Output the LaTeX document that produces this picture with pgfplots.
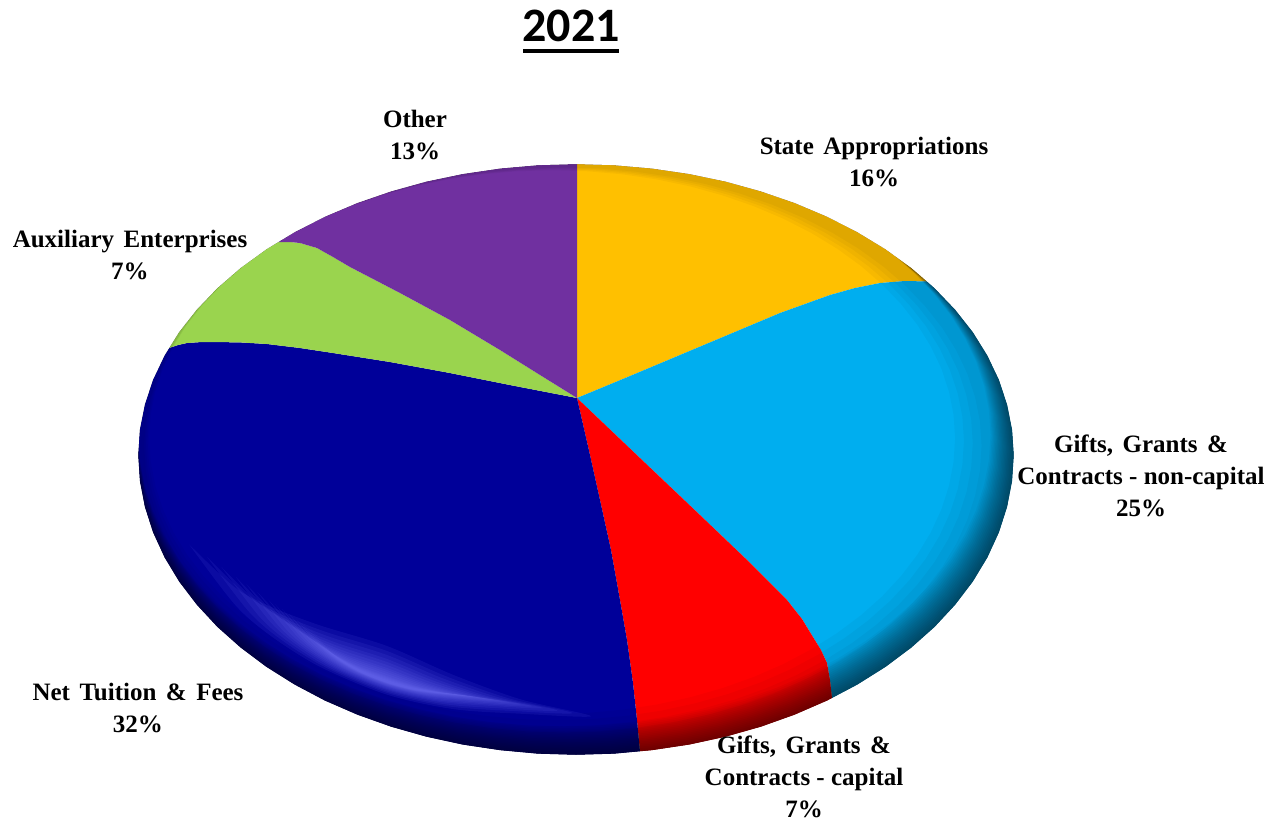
\documentclass[border=0pt]{standalone}
\usepackage{fontspec}
\usepackage{pgfplots}
\usepackage{pgfplotstable}
\pgfplotsset{compat=1.18}
\setmainfont{Liberation Serif}
\newfontfamily\titlefont{Carlito}
\newcommand\ws{\spaceskip=0.38em\relax}
\definecolor{cY}{HTML}{FFC000}
\definecolor{cB}{HTML}{00AEEF}
\definecolor{cR}{HTML}{FF0000}
\definecolor{cN}{HTML}{000099}
\definecolor{cG}{HTML}{9AD44E}
\definecolor{cP}{HTML}{7030A0}
\definecolor{cH}{HTML}{7C7CFF}
\tikzset{lab/.style={align=center, anchor=center, inner sep=0pt, font=\fontsize{25}{32}\selectfont\bfseries}}
\pgfplotstableread{
x y
576 164
614.2 165.1
652 168.4
689.4 173.9
725.8 181.5
761.1 191.3
795 203
827.2 216.6
857.5 232.1
885.7 249.2
911.5 267.9
934.8 288.1
955.3 309.5
973 332
987.6 355.5
999.1 379.7
1007.3 404.5
1012.3 429.6
1014 455
1012.3 481.2
1007.3 507.1
999.1 532.6
987.6 557.6
973 581.8
955.3 605
934.8 627.1
911.5 647.8
885.7 667.1
857.5 684.8
827.2 700.8
795 714.8
761.1 726.9
725.8 736.9
689.4 744.8
652 750.4
614.2 753.9
576 755
537.8 753.9
500 750.4
462.6 744.8
426.2 736.9
390.9 726.9
357 714.8
324.8 700.8
294.5 684.8
266.3 667.1
240.5 647.8
217.2 627.1
196.7 605
179 581.8
164.4 557.6
152.9 532.6
144.7 507.1
139.7 481.2
138 455
139.7 429.6
144.7 404.5
152.9 379.7
164.4 355.5
179 332
196.7 309.5
217.2 288.1
240.5 267.9
266.3 249.2
294.5 232.1
324.8 216.6
357 203
390.9 191.3
426.2 181.5
462.6 173.9
500 168.4
537.8 165.1
576 164
}\outline
\pgfplotstablevertcat{\doubled}{\outline}
\pgfplotstablevertcat{\doubled}{\outline}
\pgfplotstableread{
x y
576 -20
1310 -20
1310 850
-20 850
-20 -20
576 -20
}\surround
\pgfplotstablevertcat{\surround}{\outline}
\pgfplotstableread{
x y d
190 545 0
235 600 -0.35
270 628 -0.6
320 656 -0.85
387 682 -1
453 700 -0.7
520 710 -0.3
590 716 0
520 710 0.1
453 700 0.25
387 682 0.35
320 656 0.3
270 628 0.2
235 600 0.12
190 545 0
}\glow
\begin{document}
\begin{tikzpicture}
\path[use as bounding box] (0,0) rectangle (1285pt,822pt);
\begin{axis}[
  at={(0,0)}, anchor=south west,
  hide axis, scale only axis, width=1285pt, height=822pt,
  xmin=0, xmax=1285, ymin=0, ymax=822, y dir=reverse,
  clip=false, enlargelimits=false]
% Slices
\addplot[draw=none, fill=cY] coordinates {(577,398)(577,164)(614.2,165.1)(652,168.4)(689.4,173.9)(725.8,181.5)(761.1,191.3)(795,203)(827.2,216.6)(857.5,232.1)(885.7,249.2)(911.5,267.9)(928,281.5)(905,281)(880,283)(855,288)(830,295)(805,304)(780,313)(730,334)(680,355)(630,376)(577,398)};
\addplot[draw=none, fill=cB] coordinates {(577,398)(630,376)(680,355)(730,334)(780,313)(805,304)(830,295)(855,288)(880,283)(905,281)(928,281.5)(934.8,288.1)(955.3,309.5)(973,332)(987.6,355.5)(999.1,379.7)(1007.3,404.5)(1012.3,429.6)(1014,455)(1012.3,481.2)(1007.3,507.1)(999.1,532.6)(987.6,557.6)(973,581.8)(955.3,605)(934.8,627.1)(911.5,647.8)(885.7,667.1)(857.5,684.8)(832,698.3)(830,680)(827,663)(821,650)(813,637)(802,619)(787,600)(745,558)(700,515)(640,458)(577,398)};
\addplot[draw=none, fill=cR] coordinates {(577,398)(640,458)(700,515)(745,558)(787,600)(802,619)(813,637)(821,650)(827,663)(830,680)(832,698.3)(827.2,700.8)(795,714.8)(761.1,726.9)(725.8,736.9)(689.4,744.8)(652,750.4)(640,751.5)(637,720)(633,683)(627,640)(620,600)(611,550)(600,500)(590,455)(577,398)};
\addplot[draw=none, fill=cN] coordinates {(577,398)(590,455)(600,500)(611,550)(620,600)(627,640)(633,683)(637,720)(640,751.5)(614.2,753.9)(576,755)(537.8,753.9)(500,750.4)(462.6,744.8)(426.2,736.9)(390.9,726.9)(357,714.8)(324.8,700.8)(294.5,684.8)(266.3,667.1)(240.5,647.8)(217.2,627.1)(196.7,605)(179,581.8)(164.4,557.6)(152.9,532.6)(144.7,507.1)(139.7,481.2)(138,455)(139.7,429.6)(144.7,404.5)(152.9,379.7)(164.4,355.5)(169,348)(178,345)(187,343)(202,342)(217,342)(242,342.5)(267,344)(300,348)(333,353)(390,362)(450,373)(515,386)(577,398)};
\addplot[draw=none, fill=cG] coordinates {(577,398)(515,386)(450,373)(390,362)(333,353)(300,348)(267,344)(242,342.5)(217,342)(202,342)(187,343)(178,345)(169,348)(179,332)(196.7,309.5)(217.2,288.1)(240.5,267.9)(266.3,249.2)(278,242)(290,242)(300,243)(317,248)(333,257)(350,267)(375,280)(400,293)(450,320)(500,350)(540,375)(577,398)};
\addplot[draw=none, fill=cP] coordinates {(577,398)(540,375)(500,350)(450,320)(400,293)(375,280)(350,267)(333,257)(317,248)(300,243)(290,242)(278,242)(294.5,232.1)(324.8,216.6)(357,203)(390.9,191.3)(426.2,181.5)(462.6,173.9)(500,168.4)(537.8,165.1)(577,164)(577,398)};
% Broad faint shading
\pgfplotsinvokeforeach{0.92,0.932,0.944,0.956}{
  \addplot[draw=none, fill=black, fill opacity=0.03, even odd rule]
    table[x expr={\coordindex<73 ? \thisrow{x} : 278+#1*(\thisrow{x}-278)},
          y expr={\coordindex<73 ? \thisrow{y} : 242+#1*(\thisrow{y}-242)}] {\doubled};
}
% Rim: the outline and a copy shrunk towards a point far above the pie
\pgfplotsinvokeforeach{0.973,0.9745,0.976,0.9775,0.979,0.9805,0.982,0.9835,0.985,0.9865,0.988,0.9895,0.991,0.9925,0.994,0.9955,0.997,0.9985}{
  \addplot[draw=none, fill=black, fill opacity=0.035, even odd rule]
    table[x expr={\coordindex<73 ? \thisrow{x} : 145+#1*(\thisrow{x}-145)},
          y expr={\coordindex<73 ? \thisrow{y} : -299+#1*(\thisrow{y}+299)}] {\doubled};
}
% Highlight on the navy slice
\pgfplotsinvokeforeach{36,31,27,23,20,17,14,12,10,8,6,5,4,3,2}{
  \addplot[smooth, draw=none, fill=cH, fill opacity=0.095]
    table[x expr={387+(0.35+#1/55)*(\thisrow{x}-387)},
          y expr={682+(0.35+#1/55)*(\thisrow{y}-682)+#1*\thisrow{d}}] {\glow};
}
% White surround, trimming the shading to the outline
\addplot[draw=none, fill=white, even odd rule] table[x=x, y=y] {\surround};
% Labels
\node[lab] at (axis cs:415,135) {\ws Other\\13\%};
\node[lab] at (axis cs:874,162) {\ws State Appropriations\\16\%};
\node[lab] at (axis cs:130,255) {\ws Auxiliary Enterprises\\7\%};
\node[lab] at (axis cs:1141,476) {\ws Gifts, Grants \&\\Contracts - non-capital\\25\%};
\node[lab] at (axis cs:804,777) {\ws Gifts, Grants \&\\Contracts - capital\\7\%};
\node[lab] at (axis cs:138,708) {\ws Net Tuition \& Fees\\32\%};
\node[anchor=center, inner sep=0pt, font=\fontsize{48}{48}\selectfont\titlefont\bfseries] at (axis cs:571,26) {2021};
\node[anchor=center, inner sep=0pt] at (axis cs:571,51) {\rule{96pt}{3.5pt}};
\end{axis}
\end{tikzpicture}
\end{document}
